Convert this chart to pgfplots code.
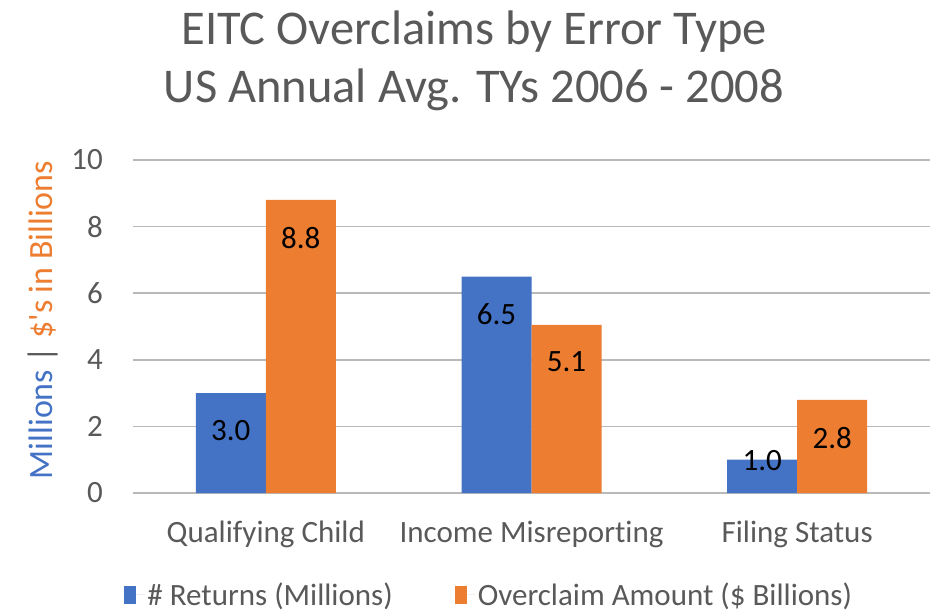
\documentclass[border=0pt]{standalone}
\usepackage{fontspec}
\setmainfont{Carlito}[Ligatures=NoCommon]
\newfontfamily\rawfont{Carlito}
\usepackage{pgfplots}
\pgfplotsset{compat=1.18}
\definecolor{cblue}{HTML}{4472C4}
\definecolor{corange}{HTML}{ED7D31}
\definecolor{ctext}{HTML}{595959}
\definecolor{cgrid}{RGB}{185,185,185}
\begin{document}
\begin{tikzpicture}[x=1pt,y=1pt]
\path[use as bounding box] (0,0) rectangle (933,613);
\node[anchor=base, text=ctext, font=\fontsize{48.5}{56}\selectfont] at (474,568) {EITC Overclaims by Error Type};
\node[anchor=base, text=ctext, font=\fontsize{48.5}{56}\selectfont] at (474,510) {US Annual Avg. TYs 2006 - 2008};
\node[rotate=90, anchor=base, font=\fontsize{34}{40}\selectfont] at (52,293)
  {\textcolor{cblue}{Millions} \textcolor{ctext}{|} \textcolor{corange}{\$\rawfont 's in Billions}};
\begin{axis}[
  at={(133pt,120pt)}, anchor=south west,
  scale only axis, width=797pt, height=333pt,
  ymin=0, ymax=10, ytick={0,2,4,6,8,10},
  xmin=-0.5, xmax=2.5, xtick={0,1,2},
  xticklabels={Qualifying Child, Income Misreporting, Filing Status},
  axis line style={draw=none},
  major tick length=0pt,
  ymajorgrids, grid style={cgrid, line width=1.6pt},
  /pgf/number format/assume math mode=true,
  ticklabel style={font=\fontsize{31}{36}\selectfont, text=ctext},
  yticklabel style={inner sep=0pt, xshift=-30pt},
  xticklabel style={anchor=base, inner sep=0pt, yshift=-49pt},
  point meta=explicit symbolic,
  visualization depends on=rawy \as \ry,
  nodes near coords,
  every node near coord/.append style={anchor=north, inner sep=0pt, text=black,
     font=\fontsize{31}{36}\selectfont, yshift={ifthenelse(\ry<2,10,-27)}},
  legend columns=2,
  legend style={draw=none, fill=none, at={(0.447,-0.306)}, anchor=center,
     font=\fontsize{31}{36}\selectfont, text=ctext,
     /tikz/every even column/.append style={column sep=60pt}},
]
\addplot[ybar, bar width=70pt, bar shift=-35pt, fill=cblue, draw=none,
  every node near coord/.append style={xshift=-35pt},
  legend image code/.code={\fill[cblue] (0pt,-9pt) rectangle (12pt,9pt); \path (0pt,0pt) -- (21pt,0pt);}]
  coordinates {(0,3.0)[3.0] (1,6.5)[6.5] (2,1.0)[1.0]};
\addlegendentry{\# Returns (Millions)}
\addplot[ybar, bar width=70pt, bar shift=35pt, fill=corange, draw=none,
  every node near coord/.append style={xshift=35pt},
  legend image code/.code={\fill[corange] (0pt,-9pt) rectangle (12pt,9pt); \path (0pt,0pt) -- (21pt,0pt);}]
  coordinates {(0,8.8)[8.8] (1,5.05)[5.1] (2,2.8)[2.8]};
\addlegendentry{Overclaim Amount (\$ Billions)}
\end{axis}
\end{tikzpicture}
\end{document}
